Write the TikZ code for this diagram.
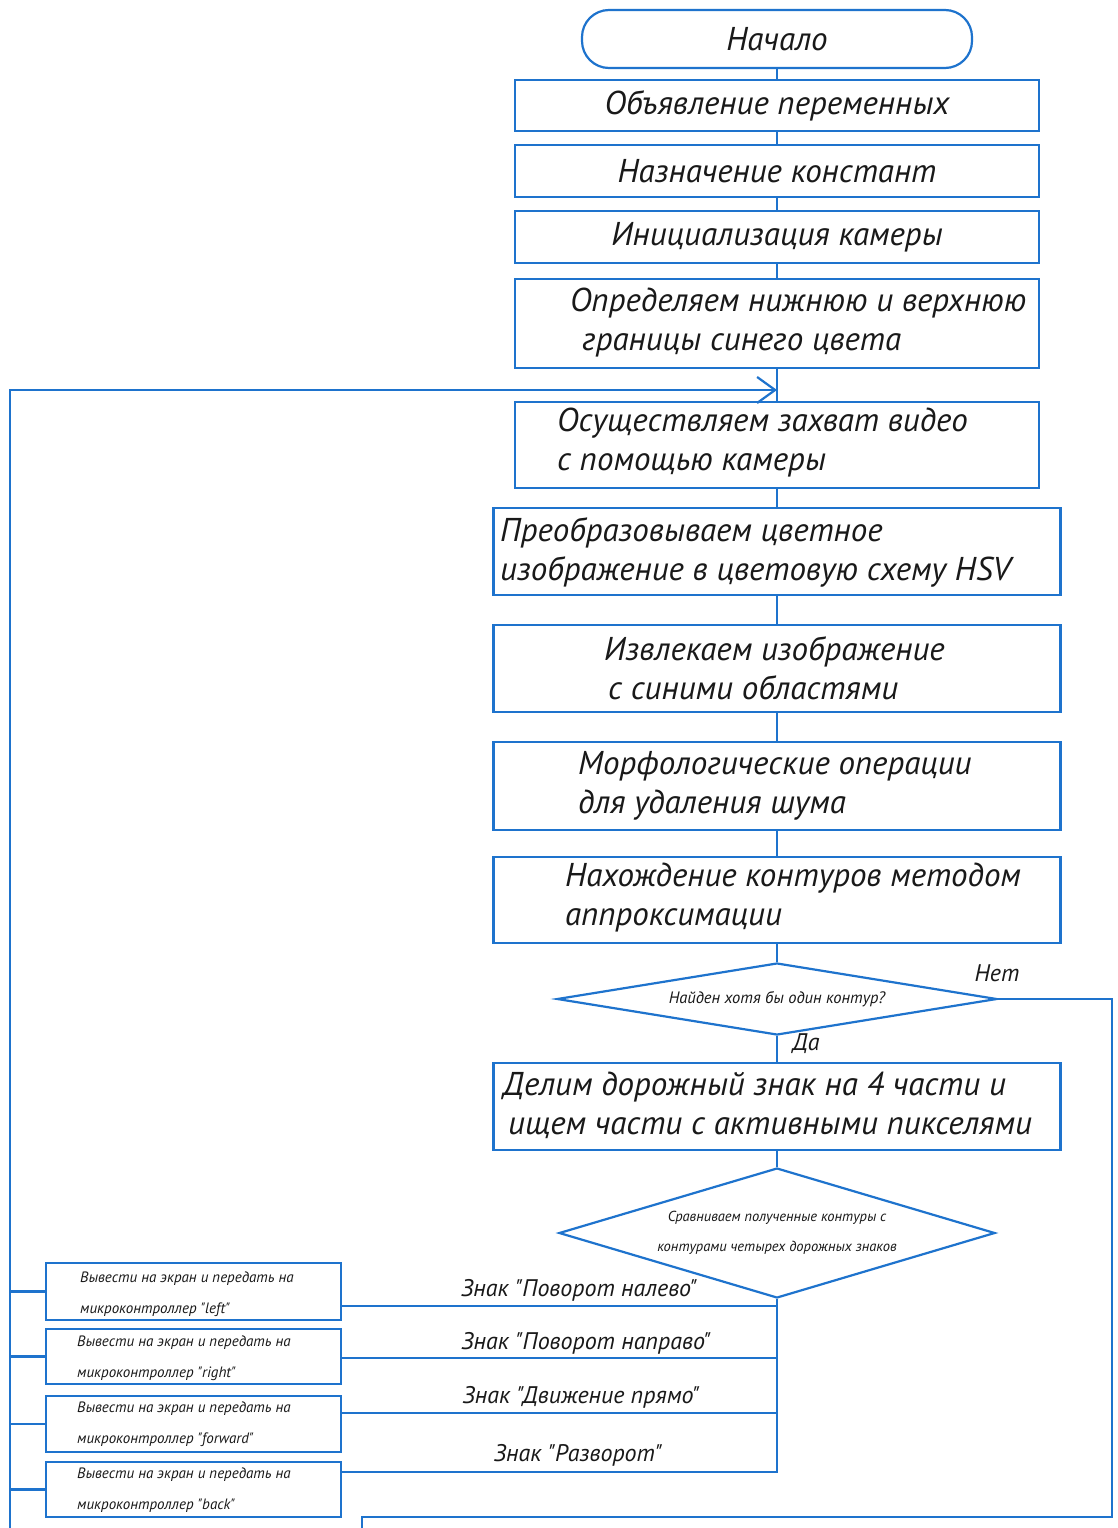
\documentclass[tikz,border=0pt]{standalone}
\usepackage{fontspec}
\setmainfont{PT Sans}[Ligatures=TeXOff]
\usetikzlibrary{shapes.geometric,arrows.meta}
\definecolor{ln}{RGB}{30,115,205}
\definecolor{tx}{RGB}{25,25,25}
\begin{document}
\begin{tikzpicture}[x=1pt,y=-1pt,
  line/.style={draw=ln,line width=2.2pt},
  blk/.style={line,rectangle,minimum width=524pt,inner sep=0pt,text=tx,font=\fontsize{33}{39}\selectfont\itshape},
  wblk/.style={blk,minimum width=567pt},
  sblk/.style={line,rectangle,minimum width=295pt,inner sep=0pt},
  term/.style={blk,rounded corners=27pt,minimum width=390pt,minimum height=58pt},
  dia/.style={line,diamond,inner sep=0pt,text=tx,align=center},
  big/.style={inner sep=0pt,text=tx,align=left,anchor=west,font=\fontsize{33}{39}\selectfont\itshape},
  small/.style={inner sep=0pt,text=tx,align=left,anchor=west,font=\fontsize{15}{31}\selectfont\itshape},
  lbl/.style={inner sep=0pt,text=tx,font=\fontsize{24}{28}\selectfont\itshape}]
\useasboundingbox[fill=white] (0,0) rectangle (1117,1528);

\node[term] (start) at (777,39) {Начало};
\node[blk,minimum height=51pt] (b1) at (777,105.5) {Объявление переменных};
\node[blk,minimum height=52pt] (b2) at (777,171) {Назначение констант};
\node[blk,minimum height=52pt] (b3) at (777,237) {Инициализация камеры};
\node[blk,minimum height=89pt] (b4) at (777,323.5) {};
\node[big] (t4) at (570,323) {Определяем нижнюю и верхнюю\\\hspace*{12pt}границы синего цвета};
\node[blk,minimum height=86pt] (b5) at (777,445) {};
\node[big] (t5) at (557,443) {Осуществляем захват видео\\с помощью камеры};
\node[wblk,minimum height=87pt] (b6) at (777,551.5) {};
\node[big] (t6) at (500,552) {Преобразовываем цветное\\изображение в цветовую схему HSV};
\node[wblk,minimum height=87pt] (b7) at (777,668.5) {};
\node[big] (t7) at (604,668) {Извлекаем изображение\\\hspace*{4pt}с синими областями};
\node[wblk,minimum height=88pt] (b8) at (777,786) {};
\node[big] (t8) at (578,786) {Морфологические операции\\для удаления шума};
\node[wblk,minimum height=86pt] (b9) at (777,900) {};
\node[big] (t9) at (565,898) {Нахождение контуров методом\\аппроксимации};
\node[dia,aspect=6.1,minimum width=440pt,minimum height=72pt,font=\fontsize{16.5}{18}\selectfont\itshape] (d1) at (777,999) {Найден хотя бы один контур?};
\node[wblk,minimum height=87pt] (b10) at (777,1106.5) {};
\node[big] (t10) at (503,1105) {Делим дорожный знак на 4 части и\\\hspace*{5pt}ищем части с активными пикселями};
\node[dia,aspect=3.35,minimum width=436pt,minimum height=130pt,font=\fontsize{14.5}{30}\selectfont\itshape] (d2) at (777,1233) {Сравниваем полученные контуры с\\контурами четырех дорожных знаков};

\node[lbl] (no) at (997,973) {Нет};
\node[lbl] (yes) at (806,1044) {Да};

\node[sblk,minimum height=57pt] (bA) at (193.5,1291.5) {};
\node[small] (tA) at (80,1294) {Вывести на экран и передать на\\микроконтроллер "left"};
\node[sblk,minimum height=55pt] (bB) at (193.5,1356.5) {};
\node[small] (tB) at (77,1358) {Вывести на экран и передать на\\микроконтроллер "right"};
\node[sblk,minimum height=56pt] (bC) at (193.5,1424) {};
\node[small] (tC) at (77,1424) {Вывести на экран и передать на\\микроконтроллер "forward"};
\node[sblk,minimum height=55pt] (bD) at (193.5,1489.5) {};
\node[small] (tD) at (77,1490) {Вывести на экран и передать на\\микроконтроллер "back"};

\node[lbl] (lA) at (579,1290) {Знак "Поворот налево"};
\node[lbl] (lB) at (586,1343) {Знак "Поворот направо"};
\node[lbl] (lC) at (581,1397) {Знак "Движение прямо"};
\node[lbl] (lD) at (578,1455) {Знак "Разворот"};

% main flow
\draw[line] (start.south) -- (b1.north);
\draw[line] (b1.south) -- (b2.north);
\draw[line] (b2.south) -- (b3.north);
\draw[line] (b3.south) -- (b4.north);
\draw[line] (b4.south) -- (b5.north);
\draw[line] (b5.south) -- (b6.north);
\draw[line] (b6.south) -- (b7.north);
\draw[line] (b7.south) -- (b8.north);
\draw[line] (b8.south) -- (b9.north);
\draw[line] (b9.south) -- (d1.north);
\draw[line] (d1.south) -- (b10.north);
\draw[line] (b10.south) -- (d2.north);

% loop back
\coordinate (lt) at (10,390);
\coordinate (lb) at (10,1528);
\draw[line,-{Straight Barb[length=18pt,width=26pt,line width=2.2pt]}] (lb) -- (lt) -- (lt -| b5.north);
\draw[line] (lt |- bA.west) -- (bA.west);
\draw[line] (lt |- bB.west) -- (bB.west);
\draw[line] (lt |- bC.west) -- (bC.west);
\draw[line] (lt |- bD.west) -- (bD.west);

% branches of second decision
\coordinate (ra) at ([yshift=-14.5pt]bA.east);
\coordinate (rb) at ([yshift=-1.5pt]bB.east);
\coordinate (rc) at ([yshift=11pt]bC.east);
\coordinate (rd) at ([yshift=17.5pt]bD.east);
\draw[line] (d2.south) -- (rd -| d2.south) -- (rd);
\draw[line] (ra) -- (ra -| d2.south);
\draw[line] (rb) -- (rb -| d2.south);
\draw[line] (rc) -- (rc -| d2.south);

% "no" branch
\coordinate (rx) at (1112,1517);
\coordinate (bx) at (362,1528);
\draw[line] (d1.east) -| (rx) -| (bx);
\end{tikzpicture}
\end{document}
